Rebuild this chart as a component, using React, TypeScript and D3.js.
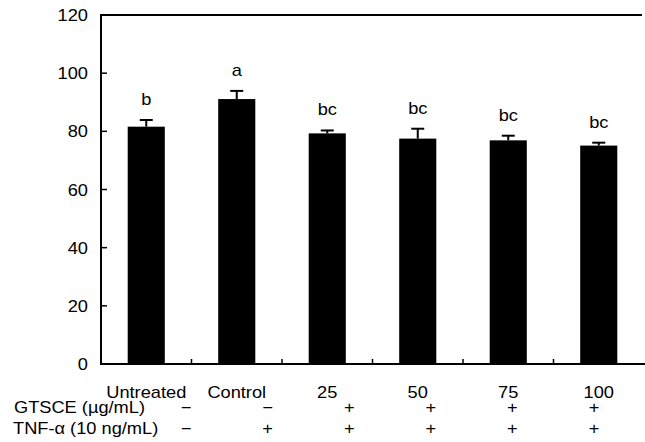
import React from "react";
import * as d3 from "d3";

const categories = ["Untreated", "Control", "25", "50", "75", "100"];
const values = [81.6, 91.1, 79.3, 77.5, 76.9, 75.1];
const errors = [2.3, 2.8, 1.0, 3.4, 1.6, 1.0];
const letters = ["b", "a", "bc", "bc", "bc", "bc"];
const yTicks = [0, 20, 40, 60, 80, 100, 120];
const gtsceSigns = ["\u2212", "\u2212", "+", "+", "+", "+"];
const tnfSigns = ["\u2212", "+", "+", "+", "+", "+"];
const rowLabels = ["GTSCE (\u00b5g/mL)", "TNF-\u03b1 (10 ng/mL)"];

const W = 645,
  H = 442;
const margin = { top: 15, right: 1, bottom: 78, left: 101 };
const font = "'Liberation Sans', Arial, sans-serif";
const sx = 1.14; // text in the figure is a bit stretched sideways

const T = ({ x, y, anchor = "middle", children }: any) => (
  <text
    transform={`translate(${x},${y}) scale(${sx},1)`}
    textAnchor={anchor}
    fontFamily={font}
    fontSize={16}
    fill="#000"
  >
    {children}
  </text>
);

export default function App() {
  const x = d3
    .scaleBand()
    .domain(categories)
    .range([margin.left, W - margin.right]);
  const y = d3
    .scaleLinear()
    .domain([0, 120])
    .range([H - margin.bottom, margin.top]);
  // columns of the +/- table under the axis
  const sign = d3.scalePoint().domain(categories).range([186, 594]);

  const bw = x.bandwidth() * 0.41;
  const y0 = y(0);

  return (
    <svg
      width={W}
      height={H}
      style={{ position: "absolute", left: 0, top: 0, background: "#fff" }}
    >
      {/* bars + error bars + letters */}
      {categories.map((c, i) => {
        const cx = x(c)! + x.bandwidth() / 2;
        const top = y(values[i]);
        const et = y(values[i] + errors[i]);
        return (
          <g key={c}>
            <rect x={cx - bw / 2} y={top} width={bw} height={y0 - top} fill="#000" />
            <line x1={cx} x2={cx} y1={top} y2={et} stroke="#000" strokeWidth={2} />
            <line x1={cx - 6.5} x2={cx + 6.5} y1={et} y2={et} stroke="#000" strokeWidth={2} />
            <T x={cx} y={et - 15}>{letters[i]}</T>
            <T x={cx} y={398}>{c}</T>
            <T x={sign(c)} y={413}>{gtsceSigns[i]}</T>
            <T x={sign(c)} y={434}>{tnfSigns[i]}</T>
          </g>
        );
      })}

      {/* y axis */}
      <line x1={margin.left} x2={margin.left} y1={margin.top} y2={y0} stroke="#000" strokeWidth={2} />
      {yTicks.map((t) => (
        <g key={t}>
          <line x1={margin.left} x2={margin.left + 6} y1={y(t)} y2={y(t)} stroke="#000" strokeWidth={1.5} />
          <T x={88} y={y(t) + 6} anchor="end">{t}</T>
        </g>
      ))}

      {/* top frame line */}
      <line x1={margin.left - 1} x2={642} y1={margin.top} y2={margin.top} stroke="#000" strokeWidth={2} />

      {/* x axis */}
      <line x1={margin.left - 1} x2={W} y1={y0} y2={y0} stroke="#000" strokeWidth={2} />
      {categories.slice(1).map((c) => (
        <line key={c} x1={x(c)} x2={x(c)} y1={y0} y2={y0 - 5} stroke="#000" strokeWidth={1.5} />
      ))}

      {/* row labels of the treatment table */}
      <T x={14} y={413} anchor="start">{rowLabels[0]}</T>
      <T x={13} y={434} anchor="start">{rowLabels[1]}</T>
    </svg>
  );
}
